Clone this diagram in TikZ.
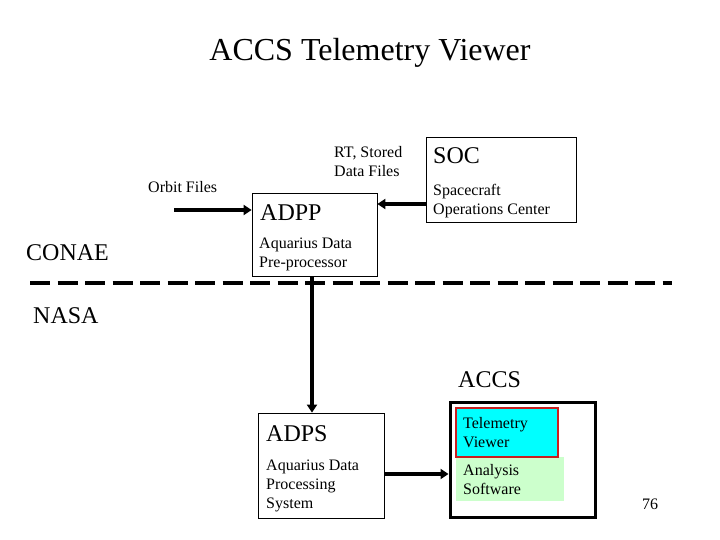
\documentclass[tikz,border=0pt]{standalone}
\usepackage{fontspec}
\setmainfont{Liberation Serif}
\usepackage{xcolor}
\usepackage{tikz}
\usetikzlibrary{arrows.meta}
\definecolor{tvcyan}{RGB}{0,255,255}
\definecolor{tvred}{RGB}{200,30,30}
\definecolor{swgreen}{RGB}{204,255,204}
\tikzset{
    boxn/.style = {rectangle, draw=black, line width=0.8pt, inner sep=0pt},
    headtxt/.style = {anchor=base west, inner sep=0pt, font=\fontsize{24}{28}\selectfont},
    smalltxt/.style = {anchor=north west, inner sep=0pt, align=left, font=\fontsize{16}{19}\selectfont},
}

\begin{document}
\begin{tikzpicture}[
	x=1pt,
	y=-1pt
]
\tikzset{
    arrn/.style = {line width=3.5pt, -{Triangle[length=8pt,width=10pt]}},
    divider/.style = {line width=3.5pt, dash pattern=on 20pt off 7.5pt},
}
\useasboundingbox (0,0) rectangle (720,540);
\node[anchor=base, inner sep=0pt, font=\fontsize{32}{38}\selectfont] at (370,61) (title) {ACCS Telemetry Viewer};
%
\node[boxn, minimum width=125, minimum height=83] at (314.5,234.5) (adpp) {};
\node[boxn, minimum width=150, minimum height=85] at (501,179.5) (soc) {};
\node[boxn, minimum width=126, minimum height=105] at (321,465.5) (adps) {};
\node[rectangle, draw=black, line width=3pt, minimum width=145, minimum height=115] at (522.5,459.5) (accs) {};
\node[rectangle, fill=swgreen, minimum width=108, minimum height=44] at (510,479) (sw) {};
\node[rectangle, draw=tvred, fill=tvcyan, line width=2.5pt, minimum width=102, minimum height=49] at (507,432.5) (tv) {};
%
\node[headtxt] at (260,221) (adpph) {ADPP};
\node[smalltxt] at (259,238) (adppd) {Aquarius Data\\Pre-processor};
\node[headtxt] at (433,164) (soch) {SOC};
\node[smalltxt] at (433,184) (socd) {Spacecraft\\Operations Center};
\node[headtxt] at (266,441) (adpsh) {ADPS};
\node[smalltxt] at (266,460) (adpsd) {Aquarius Data\\Processing\\System};
\node[headtxt] at (458,387) (accsh) {ACCS};
\node[smalltxt] at (463,417) (tvd) {Telemetry\\Viewer};
\node[smalltxt] at (463,464) (swd) {Analysis\\Software};
%
\node[headtxt] at (26,260) (conae) {CONAE};
\node[headtxt] at (33,323) (nasa) {NASA};
\node[anchor=base west, inner sep=0pt, font=\fontsize{16}{19}\selectfont] at (148,193) (orbitt) {Orbit Files};
\node[smalltxt] at (334,146) (rtt) {RT, Stored\\Data Files};
\node[anchor=base west, inner sep=0pt, font=\fontsize{16}{19}\selectfont] at (642,509) (page) {76};
%
\coordinate (orbit) at (174,210);
\coordinate (rt) at (426,204);
\coordinate (vx) at (312,0);
\coordinate (hy) at (0,474);
\coordinate (divl) at (30,283);
\coordinate (divr) at (672,283);
%
\draw[divider] (divl) -- (divr);
\draw[arrn] (orbit) -- (orbit -| adpp.west);
\draw[arrn] (soc.west |- rt) -- (adpp.east |- rt);
\draw[arrn] (adpp.south -| vx) -- (adps.north -| vx);
\draw[arrn] (adps.east |- hy) -- (accs.west |- hy);
\end{tikzpicture}
\end{document}
